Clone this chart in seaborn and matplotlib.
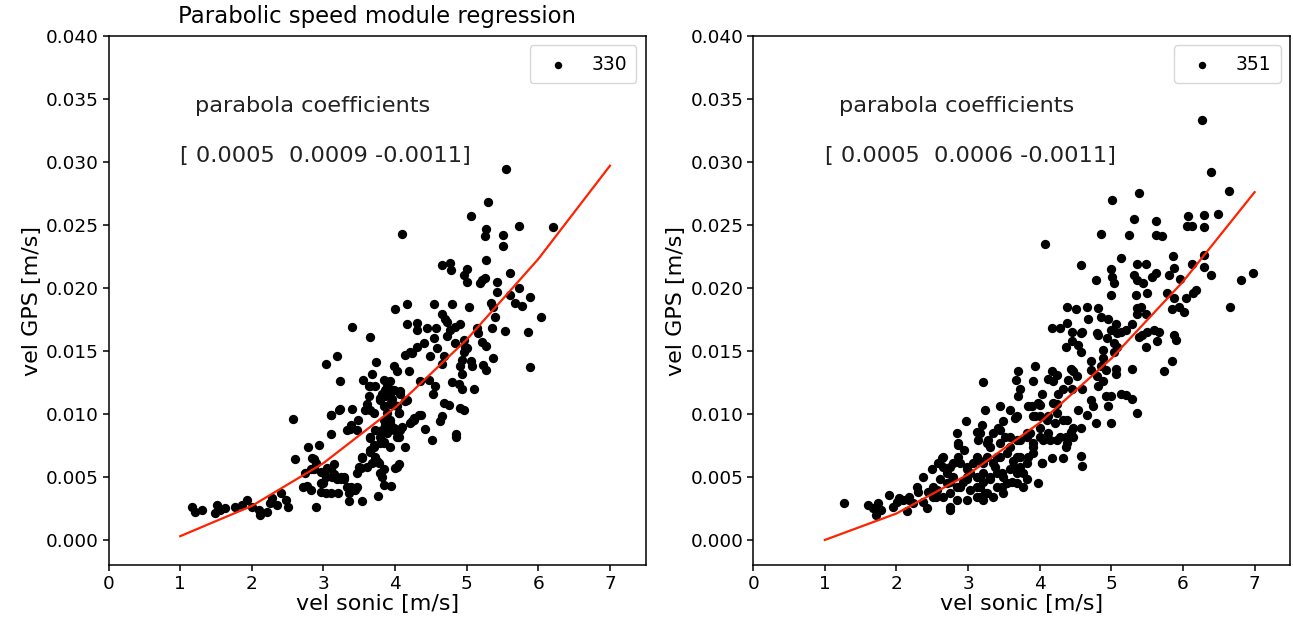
import matplotlib
matplotlib.use("Agg")
import matplotlib.pyplot as plt
import seaborn as sns

# scatter data (sonic speed vs GPS speed)
sonic_330 = [
    1.17, 1.21, 1.31, 1.52, 1.49, 1.56, 1.63, 1.77, 1.86, 1.93, 2.00, 2.10, 2.12, 2.21, 2.26, 2.28,
    2.40, 2.47, 2.51, 2.35, 2.58, 2.60, 2.74, 2.77, 2.79, 2.87, 2.87, 2.90, 2.94, 2.96, 3.01, 3.03,
    3.03, 3.05, 3.10, 3.11, 3.12, 3.14, 3.19, 3.20, 3.23, 3.23, 3.24, 3.29, 3.33, 3.36, 3.37, 3.40,
    3.40, 3.44, 3.48, 3.49, 3.54, 3.54, 3.55, 3.58, 3.63, 3.65, 3.65, 3.65, 3.68, 3.70, 3.72, 3.73,
    3.75, 3.76, 3.79, 3.79, 3.79, 3.82, 3.82, 3.82, 3.84, 3.84, 3.84, 3.84, 3.86, 3.86, 3.86, 3.89,
    3.89, 3.93, 3.93, 3.94, 3.96, 3.96, 3.98, 3.98, 3.98, 4.00, 4.00, 4.02, 4.05, 4.05, 4.05, 4.07,
    4.09, 4.10, 4.14, 4.14, 4.14, 4.16, 4.17, 4.19, 4.21, 4.24, 4.24, 4.26, 4.30, 4.31, 4.31, 4.35,
    4.36, 4.40, 4.42, 4.44, 4.47, 4.49, 4.51, 4.53, 4.54, 4.54, 4.56, 4.57, 4.58, 4.63, 4.65, 4.65,
    4.66, 4.66, 4.68, 4.68, 4.70, 4.72, 4.72, 4.75, 4.76, 4.77, 4.78, 4.79, 4.79, 4.84, 4.84, 4.85,
    4.85, 4.89, 4.90, 4.91, 4.91, 4.93, 4.93, 4.93, 4.96, 4.96, 4.96, 4.96, 4.98, 5.00, 5.00, 5.01,
    5.03, 5.06, 5.06, 5.07, 5.10, 5.15, 5.16, 5.19, 5.21, 5.21, 5.23, 5.25, 5.26, 5.27, 5.27, 5.27,
    5.27, 5.29, 5.34, 5.35, 5.37, 5.37, 5.39, 5.42, 5.42, 5.50, 5.51, 5.54, 5.55, 5.60, 5.61, 5.67,
    5.73, 5.73, 5.77, 5.86, 5.88, 5.88, 6.03, 6.20,
    3.65, 3.72, 3.63, 3.61, 3.65, 3.70, 3.79, 3.86, 3.93, 3.93, 3.98, 4.07, 4.17, 4.03, 3.89, 3.84,
    3.93, 3.98, 3.89, 3.79, 3.84, 3.93, 4.03, 4.07, 4.21, 4.26, 4.33, 4.05, 3.10, 3.21, 3.38, 3.33,
    3.47, 3.65, 3.70, 3.65, 3.72, 3.68, 3.77, 3.84, 4.03, 2.84, 2.89, 2.82, 2.96, 3.10, 3.03, 3.14,
    3.24, 3.28, 3.19, 3.38, 3.47, 3.52, 3.54, 3.47, 3.61, 3.35, 2.96, 2.82, 2.72, 3.10, 3.00,
]
gps_330 = [
    0.0026, 0.0022, 0.0024, 0.0028, 0.0021, 0.0024, 0.0025, 0.0026, 0.0028, 0.0032, 0.0026, 0.0024, 0.0020, 0.0022, 0.0029, 0.0033,
    0.0037, 0.0032, 0.0026, 0.0028, 0.0096, 0.0064, 0.0053, 0.0043, 0.0074, 0.0064, 0.0056, 0.0026, 0.0075, 0.0045, 0.0053, 0.0140,
    0.0037, 0.0057, 0.0084, 0.0099, 0.0050, 0.0060, 0.0146, 0.0037, 0.0126, 0.0104, 0.0048, 0.0050, 0.0042, 0.0031, 0.0088, 0.0104,
    0.0169, 0.0040, 0.0095, 0.0058, 0.0031, 0.0066, 0.0127, 0.0103, 0.0122, 0.0071, 0.0082, 0.0161, 0.0132, 0.0074, 0.0087, 0.0141,
    0.0063, 0.0035, 0.0077, 0.0053, 0.0113, 0.0087, 0.0050, 0.0116, 0.0106, 0.0044, 0.0127, 0.0078, 0.0119, 0.0114, 0.0091, 0.0122,
    0.0085, 0.0095, 0.0126, 0.0043, 0.0119, 0.0112, 0.0138, 0.0107, 0.0089, 0.0183, 0.0057, 0.0134, 0.0101, 0.0082, 0.0060, 0.0118,
    0.0090, 0.0243, 0.0147, 0.0110, 0.0074, 0.0171, 0.0187, 0.0134, 0.0149, 0.0094, 0.0148, 0.0097, 0.0172, 0.0167, 0.0153, 0.0126,
    0.0099, 0.0156, 0.0088, 0.0168, 0.0127, 0.0146, 0.0079, 0.0116, 0.0187, 0.0160, 0.0122, 0.0168, 0.0152, 0.0094, 0.0098, 0.0140,
    0.0218, 0.0179, 0.0109, 0.0146, 0.0175, 0.0173, 0.0162, 0.0107, 0.0220, 0.0167, 0.0214, 0.0187, 0.0125, 0.0169, 0.0156, 0.0084,
    0.0082, 0.0124, 0.0105, 0.0171, 0.0138, 0.0143, 0.0132, 0.0120, 0.0210, 0.0159, 0.0149, 0.0103, 0.0153, 0.0215, 0.0152, 0.0205,
    0.0185, 0.0257, 0.0142, 0.0138, 0.0120, 0.0168, 0.0164, 0.0204, 0.0206, 0.0157, 0.0139, 0.0241, 0.0208, 0.0247, 0.0222, 0.0154,
    0.0135, 0.0268, 0.0188, 0.0168, 0.0185, 0.0144, 0.0177, 0.0205, 0.0197, 0.0242, 0.0233, 0.0166, 0.0294, 0.0212, 0.0194, 0.0188,
    0.0249, 0.0200, 0.0186, 0.0165, 0.0193, 0.0137, 0.0177, 0.0248,
    0.0122, 0.0122, 0.0114, 0.0108, 0.0103, 0.0101, 0.0111, 0.0114, 0.0116, 0.0108, 0.0119, 0.0116, 0.0111, 0.0106, 0.0101, 0.0095,
    0.0093, 0.0087, 0.0087, 0.0082, 0.0077, 0.0074, 0.0082, 0.0087, 0.0093, 0.0095, 0.0099, 0.0101, 0.0099, 0.0103, 0.0091, 0.0087,
    0.0087, 0.0081, 0.0075, 0.0070, 0.0066, 0.0061, 0.0061, 0.0056, 0.0058, 0.0065, 0.0061, 0.0056, 0.0054, 0.0056, 0.0050, 0.0052,
    0.0050, 0.0048, 0.0048, 0.0042, 0.0053, 0.0057, 0.0065, 0.0042, 0.0058, 0.0037, 0.0038, 0.0040, 0.0042, 0.0037, 0.0045,
]

sonic_351 = [
    1.27, 1.60, 1.67, 1.72, 1.79, 1.74, 1.89, 1.95, 2.01, 2.04, 2.14, 2.18, 2.23, 2.30, 2.37, 2.42,
    2.44, 2.55, 2.56, 2.37, 2.49, 2.75, 2.65, 2.63, 2.70, 2.75, 2.84, 2.93, 2.79, 2.86, 2.98, 3.03,
    3.12, 3.17, 3.24, 3.21, 3.31, 3.12, 3.21, 3.38, 3.47, 3.47, 3.61, 3.63, 3.77, 3.77, 2.84, 2.86,
    2.97, 2.94, 3.12, 3.14, 3.19, 3.26, 3.24, 3.21, 3.45, 3.42, 3.49, 3.52, 3.59, 3.66, 3.59, 3.68,
    3.70, 3.67, 3.73, 3.70, 3.84, 3.82, 3.31, 3.40, 2.98, 6.26, 6.39, 6.64, 5.38, 5.01, 4.07, 5.31,
    5.63, 4.85, 5.25, 5.63, 5.71, 6.07, 6.29, 6.49, 6.06, 6.13, 6.29, 4.57, 5.14, 5.86, 6.29, 5.36,
    5.48, 6.13, 6.29, 4.99, 5.01, 5.04, 4.78, 5.31, 5.36, 5.44, 5.57, 5.62, 5.80, 5.87, 5.96, 6.39,
    6.81, 6.98, 6.18, 6.14, 4.99, 5.34, 5.50, 5.78, 5.87, 6.04, 6.66, 5.85, 6.01, 5.94, 5.87, 5.90,
    5.84, 5.74, 5.36, 5.36, 5.48, 5.41, 5.50, 5.59, 5.66, 5.64, 5.48, 5.38, 5.43, 5.29, 5.36, 5.20,
    5.29, 5.13, 4.96, 4.99, 4.78, 4.38, 4.50, 4.66, 4.68, 4.82, 4.85, 4.17, 4.29, 4.38, 4.45, 4.57,
    4.59, 4.80, 4.82, 4.96, 5.06, 4.99, 5.08, 5.13, 5.20, 5.29, 4.94, 5.03, 5.08, 4.45, 4.54, 4.36,
    4.57, 4.89, 5.03, 4.71, 4.89, 4.85, 4.92, 5.06, 5.07, 3.94, 3.91, 4.03, 4.17, 4.12, 4.24, 4.19,
    4.43, 4.47, 4.52, 4.40, 4.33, 4.26, 4.45, 4.59, 4.71, 4.80, 4.82, 4.89, 4.92, 4.99, 3.89, 3.98,
    3.91, 4.19, 4.24, 4.10, 4.22, 4.38, 4.54, 4.66, 4.71, 4.47, 4.57, 4.75, 3.87, 4.01, 4.05, 4.12,
    4.24, 4.36, 4.43, 4.47, 4.36, 4.57, 4.59, 4.17, 4.33, 4.03, 3.91, 3.84, 3.98, 3.73, 3.68,
    3.68, 4.01, 3.94, 4.01, 4.12, 4.24, 4.33, 3.17, 2.86, 3.28, 3.35, 3.45, 3.45, 3.59, 3.73, 3.82,
    3.91, 4.01, 4.15, 4.29, 4.38, 3.91, 4.03, 2.65, 2.58, 2.28, 2.18, 2.09, 2.75, 2.89, 2.98, 3.07,
    3.17, 3.26, 3.35, 3.45, 3.54, 3.63, 3.73, 3.82, 2.98, 3.12, 3.21, 3.31, 3.40, 3.49, 3.59, 3.68,
    2.79, 2.70, 2.61, 2.51, 2.89, 3.03, 3.17, 3.26, 3.40, 3.54, 3.68, 3.82, 2.51, 2.65, 2.75, 2.84,
    2.98, 3.12, 3.21, 3.35, 3.49, 2.75,
]
gps_351 = [
    0.0029, 0.0028, 0.0025, 0.0020, 0.0024, 0.0029, 0.0036, 0.0026, 0.0030, 0.0033, 0.0023, 0.0032, 0.0029, 0.0038, 0.0030, 0.0025,
    0.0038, 0.0034, 0.0040, 0.0050, 0.0056, 0.0024, 0.0058, 0.0065, 0.0053, 0.0046, 0.0042, 0.0046, 0.0061, 0.0066, 0.0058, 0.0053,
    0.0042, 0.0034, 0.0037, 0.0046, 0.0050, 0.0066, 0.0061, 0.0058, 0.0053, 0.0042, 0.0046, 0.0058, 0.0053, 0.0042, 0.0085, 0.0075,
    0.0094, 0.0071, 0.0086, 0.0079, 0.0091, 0.0077, 0.0103, 0.0125, 0.0106, 0.0089, 0.0094, 0.0082, 0.0103, 0.0097, 0.0074, 0.0079,
    0.0134, 0.0127, 0.0120, 0.0114, 0.0106, 0.0085, 0.0074, 0.0066, 0.0050, 0.0333, 0.0292, 0.0277, 0.0275, 0.0270, 0.0235, 0.0255,
    0.0253, 0.0243, 0.0242, 0.0242, 0.0241, 0.0257, 0.0258, 0.0259, 0.0249, 0.0249, 0.0248, 0.0218, 0.0224, 0.0225, 0.0226, 0.0219,
    0.0219, 0.0219, 0.0217, 0.0215, 0.0209, 0.0204, 0.0206, 0.0210, 0.0206, 0.0204, 0.0209, 0.0212, 0.0210, 0.0216, 0.0207, 0.0210,
    0.0206, 0.0212, 0.0198, 0.0196, 0.0194, 0.0194, 0.0196, 0.0196, 0.0192, 0.0192, 0.0185, 0.0183, 0.0181, 0.0185, 0.0163, 0.0159,
    0.0142, 0.0134, 0.0184, 0.0179, 0.0179, 0.0185, 0.0165, 0.0167, 0.0165, 0.0158, 0.0153, 0.0161, 0.0163, 0.0136, 0.0101, 0.0115,
    0.0112, 0.0116, 0.0106, 0.0093, 0.0093, 0.0185, 0.0183, 0.0185, 0.0175, 0.0184, 0.0177, 0.0168, 0.0168, 0.0172, 0.0165, 0.0164,
    0.0165, 0.0164, 0.0163, 0.0175, 0.0171, 0.0167, 0.0164, 0.0165, 0.0167, 0.0171, 0.0160, 0.0156, 0.0153, 0.0158, 0.0155, 0.0153,
    0.0149, 0.0151, 0.0149, 0.0142, 0.0144, 0.0138, 0.0135, 0.0136, 0.0132, 0.0138, 0.0126, 0.0116, 0.0134, 0.0128, 0.0131, 0.0126,
    0.0136, 0.0134, 0.0130, 0.0127, 0.0120, 0.0116, 0.0120, 0.0120, 0.0135, 0.0130, 0.0122, 0.0126, 0.0114, 0.0114, 0.0106, 0.0109,
    0.0098, 0.0109, 0.0101, 0.0095, 0.0093, 0.0095, 0.0103, 0.0099, 0.0111, 0.0089, 0.0089, 0.0106, 0.0085, 0.0089, 0.0079, 0.0085,
    0.0079, 0.0082, 0.0086, 0.0082, 0.0074, 0.0067, 0.0059, 0.0065, 0.0065, 0.0061, 0.0074, 0.0066, 0.0045, 0.0058, 0.0066,
    0.0098, 0.0107, 0.0098, 0.0098, 0.0098, 0.0108, 0.0095, 0.0085, 0.0077, 0.0079, 0.0085, 0.0087, 0.0077, 0.0082, 0.0079, 0.0082,
    0.0077, 0.0082, 0.0079, 0.0082, 0.0077, 0.0069, 0.0061, 0.0066, 0.0061, 0.0042, 0.0034, 0.0032, 0.0058, 0.0061, 0.0056, 0.0061,
    0.0063, 0.0066, 0.0061, 0.0066, 0.0069, 0.0063, 0.0066, 0.0061, 0.0048, 0.0050, 0.0053, 0.0048, 0.0053, 0.0050, 0.0056, 0.0053,
    0.0050, 0.0045, 0.0048, 0.0042, 0.0042, 0.0040, 0.0042, 0.0037, 0.0042, 0.0045, 0.0045, 0.0048, 0.0034, 0.0034, 0.0037, 0.0032,
    0.0032, 0.0034, 0.0032, 0.0034, 0.0037, 0.0026,
]

# fitted parabola, evaluated at whole speeds 1..7
fit_x = [1, 2, 3, 4, 5, 6, 7]
fit_330 = [0.0003, 0.0027, 0.0061, 0.0105, 0.0159, 0.0223, 0.0297]
fit_351 = [0.0000, 0.0021, 0.0052, 0.0093, 0.0144, 0.0205, 0.0276]
coef_330 = "[ 0.0005  0.0009 -0.0011]"
coef_351 = "[ 0.0005  0.0006 -0.0011]"

fig, axes = plt.subplots(1, 2, figsize=(12.93, 6.19), dpi=100)
fig.subplots_adjust(left=0.084, right=0.998, bottom=0.087, top=0.942, wspace=0.2)

panels = [
    (sonic_330, gps_330, fit_330, coef_330, "330"),
    (sonic_351, gps_351, fit_351, coef_351, "351"),
]
for ax, (xs, ys, fit, coef, lab) in zip(axes, panels):
    sns.scatterplot(x=xs, y=ys, color="black", s=45, linewidth=0, label=lab, ax=ax)
    sns.lineplot(x=fit_x, y=fit, color="#ff2200", linewidth=1.6, ax=ax)
    ax.text(1.2, 0.034, "parabola coefficients", fontsize=16.2, color="#222222")
    ax.text(1.0, 0.030, coef, fontsize=16.2, color="#222222")
    ax.set_xlim(0, 7.5)
    ax.set_ylim(-0.002, 0.040)
    ax.set_xticks(range(8))
    ax.set_xlabel("vel sonic [m/s]", fontsize=16, labelpad=1)
    ax.set_ylabel("vel GPS [m/s]", fontsize=16, labelpad=3)
    ax.tick_params(labelsize=13.3, length=4, width=1.1, pad=3)
    for sp in ax.spines.values():
        sp.set_linewidth(1.1)
    ax.legend(loc="upper right", fontsize=13.5, markerscale=0.8, borderpad=0.5)

axes[0].set_title("Parabolic speed module regression", fontsize=16.4, pad=9)

plt.savefig("out.png")
